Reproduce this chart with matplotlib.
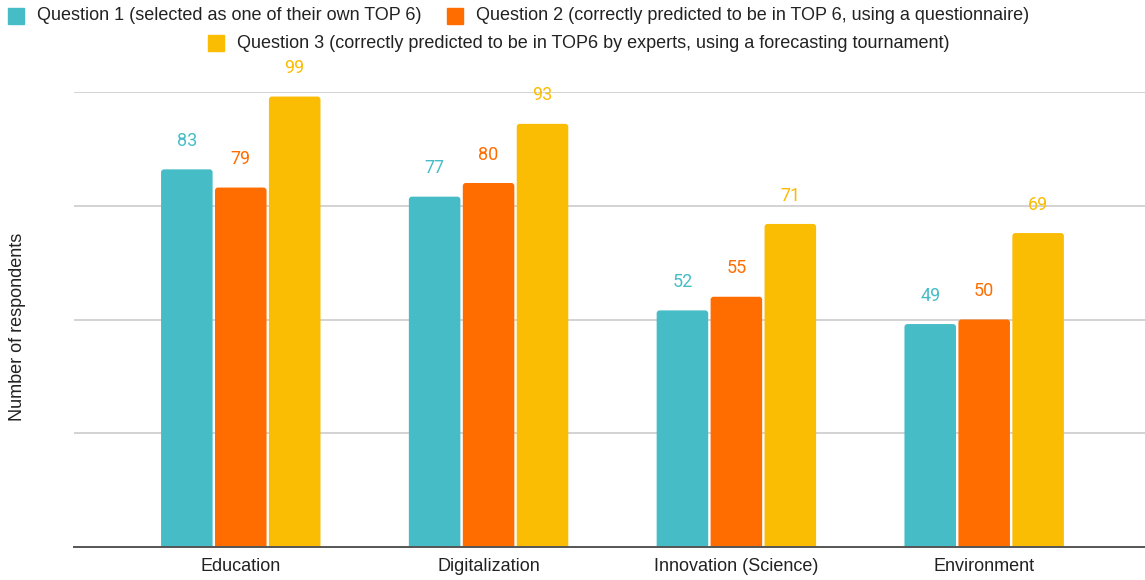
import matplotlib
matplotlib.use("Agg")
import matplotlib.pyplot as plt
from matplotlib.patches import Rectangle, FancyBboxPatch
import numpy as np

categories = ["Education", "Digitalization", "Innovation (Science)", "Environment"]
series_names = [
    "Question 1 (selected as one of their own TOP 6)",
    "Question 2 (correctly predicted to be in TOP 6, using a questionnaire)",
    "Question 3 (correctly predicted to be in TOP6 by experts, using a forecasting tournament)",
]
q1 = [83, 77, 52, 49]
q2 = [79, 80, 55, 50]
q3 = [99, 93, 71, 69]
colors = ["#46BDC6", "#FF6D01", "#FBBC04"]

W, H = 1145, 580
fig = plt.figure(figsize=(W / 100, H / 100), dpi=100)
ax = fig.add_axes([74 / W, (H - 547) / H, 1 - 74 / W, (547 - 92) / H])
ax.set_ylim(0, 100)
ax.set_xlim(-0.673, 3.649)

x = np.arange(len(categories))
pitch = 0.2177
width = 0.208

# pixel scale of each axis, used to keep the corner rounding circular
fig.canvas.draw()
bbox = ax.get_window_extent()
px_per_x = bbox.width / (ax.get_xlim()[1] - ax.get_xlim()[0])
px_per_y = bbox.height / (ax.get_ylim()[1] - ax.get_ylim()[0])
radius_px = 3.0

for i, (vals, col) in enumerate(zip([q1, q2, q3], colors)):
    pos = x + (i - 1) * pitch
    bars = ax.bar(pos, vals, width=width, color=col, edgecolor="none", zorder=3)
    for rect in bars:
        bx, bw, bh = rect.get_x(), rect.get_width(), rect.get_height()
        # extend below the axis so only the top corners show rounded
        rounded = FancyBboxPatch(
            (bx, -3), bw, bh + 3,
            boxstyle=f"round,pad=0,rounding_size={radius_px / px_per_x}",
            mutation_aspect=px_per_x / px_per_y,
            facecolor=col, edgecolor="none", zorder=3)
        ax.add_patch(rounded)
        rect.set_visible(False)
    for p, v in zip(pos, vals):
        ax.annotate(str(v), (p, v), xytext=(0, 14), textcoords="offset points",
                    ha="center", va="bottom", color=col, fontsize=13,
                    family="Roboto", clip_on=False)

ax.set_yticks([25, 50, 75, 100])
ax.yaxis.grid(True, color="#cccccc", lw=1.2, zorder=0)
ax.tick_params(axis="y", length=0, labelleft=False)
ax.tick_params(axis="x", length=0, pad=8)
ax.set_xticks(x)
ax.set_xticklabels(categories, fontsize=13, family="Liberation Sans", color="#222222")
for s in ["top", "right", "left"]:
    ax.spines[s].set_visible(False)
ax.spines["bottom"].set_color("#555555")
ax.spines["bottom"].set_linewidth(1.4)
ax.spines["bottom"].set_zorder(4)

fig.text(18 / W, 1 - 327 / H, "Number of respondents", rotation=90, ha="center",
         va="center", fontsize=13, family="Liberation Sans", color="#222222")

# legend drawn as squares and text placed in figure pixels
legend_items = [
    (8, 16, 0),
    (447, 16, 1),
    (208, 43, 2),
]
for px, py, idx in legend_items:
    fig.patches.append(Rectangle((px / W, 1 - (py + 8) / H), 16 / W, 16 / H,
                                 transform=fig.transFigure, color=colors[idx]))
    fig.text((px + 29) / W, 1 - py / H, series_names[idx], ha="left", va="center",
             fontsize=13, family="Liberation Sans", color="#222222")

fig.savefig("out.png", dpi=100)
